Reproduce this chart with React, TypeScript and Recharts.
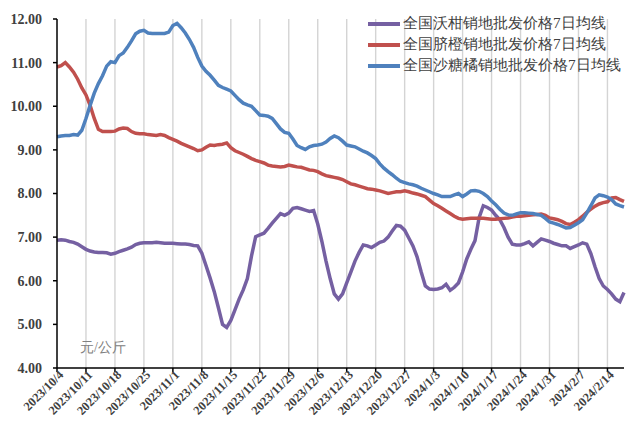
import React from 'react';
import { LineChart, Line, XAxis, YAxis, ReferenceLine } from 'recharts';

const START_DATE = Date.UTC(2023, 9, 4);
const DAY_COUNT = 138;
const categories: string[] = Array.from({ length: DAY_COUNT }, (_, i) => {
  const d = new Date(START_DATE + i * 86400000);
  return `${d.getUTCFullYear()}/${d.getUTCMonth() + 1}/${d.getUTCDate()}`;
});

const tickLabels = [
  '2023/10/4', '2023/10/11', '2023/10/18', '2023/10/25', '2023/11/1', '2023/11/8',
  '2023/11/15', '2023/11/22', '2023/11/29', '2023/12/6', '2023/12/13', '2023/12/20',
  '2023/12/27', '2024/1/3', '2024/1/10', '2024/1/17', '2024/1/24', '2024/1/31',
  '2024/2/7', '2024/2/14',
];

const yTicks = [4, 5, 6, 7, 8, 9, 10, 11, 12];

const seriesNames = ['全国沃柑销地批发价格7日均线', '全国脐橙销地批发价格7日均线', '全国沙糖橘销地批发价格7日均线'];
const seriesColors = ['#7560A2', '#C0504D', '#4F81BD'];

const woganValues = [
  6.93, 6.94, 6.93, 6.90, 6.88, 6.84, 6.78, 6.72, 6.68, 6.66,
  6.65, 6.65, 6.64, 6.61, 6.63, 6.67, 6.70, 6.73, 6.77, 6.83,
  6.86, 6.87, 6.87, 6.87, 6.88, 6.87, 6.86, 6.86, 6.86, 6.85,
  6.84, 6.84, 6.83, 6.81, 6.80, 6.63, 6.35, 6.06, 5.75, 5.38,
  5.00, 4.93, 5.09, 5.33, 5.58, 5.79, 6.05, 6.57, 7.01, 7.05,
  7.09, 7.20, 7.32, 7.43, 7.54, 7.50, 7.55, 7.66, 7.68, 7.65,
  7.62, 7.59, 7.61, 7.30, 6.90, 6.45, 6.05, 5.70, 5.58, 5.70,
  5.95, 6.20, 6.45, 6.65, 6.82, 6.80, 6.76, 6.82, 6.88, 6.91,
  7.00, 7.14, 7.27, 7.25, 7.16, 6.98, 6.80, 6.55, 6.20, 5.88,
  5.81, 5.80, 5.81, 5.84, 5.92, 5.78, 5.85, 5.95, 6.20, 6.50,
  6.72, 6.92, 7.45, 7.72, 7.68, 7.62, 7.50, 7.40, 7.22, 7.00,
  6.84, 6.82, 6.82, 6.85, 6.89, 6.80, 6.88, 6.96, 6.93, 6.90,
  6.86, 6.83, 6.80, 6.80, 6.74, 6.78, 6.82, 6.87, 6.84, 6.62,
  6.32, 6.05, 5.88, 5.80, 5.70, 5.58, 5.52, 5.73,
];

const qichengValues = [
  10.90, 10.93, 11.00, 10.90, 10.78, 10.62, 10.42, 10.26, 10.02, 9.72,
  9.47, 9.42, 9.42, 9.42, 9.43, 9.48, 9.50, 9.49, 9.42, 9.38,
  9.37, 9.37, 9.35, 9.34, 9.33, 9.35, 9.33, 9.28, 9.24, 9.20,
  9.15, 9.11, 9.07, 9.03, 8.98, 9.00, 9.06, 9.11, 9.10, 9.12,
  9.13, 9.16, 9.05, 8.98, 8.94, 8.90, 8.85, 8.80, 8.76, 8.73,
  8.70, 8.65, 8.63, 8.62, 8.61, 8.62, 8.65, 8.63, 8.61, 8.60,
  8.57, 8.54, 8.53, 8.50, 8.45, 8.41, 8.39, 8.37, 8.35, 8.32,
  8.27, 8.22, 8.20, 8.17, 8.14, 8.11, 8.10, 8.08, 8.06, 8.03,
  8.00, 8.02, 8.04, 8.04, 8.06, 8.04, 8.01, 7.99, 7.96, 7.93,
  7.85, 7.77, 7.72, 7.66, 7.60, 7.54, 7.48, 7.43, 7.41, 7.42,
  7.43, 7.43, 7.43, 7.43, 7.42, 7.41, 7.41, 7.42, 7.43, 7.44,
  7.46, 7.48, 7.48, 7.49, 7.50, 7.51, 7.52, 7.53, 7.50, 7.44,
  7.42, 7.40, 7.36, 7.31, 7.29, 7.34, 7.40, 7.48, 7.57, 7.64,
  7.71, 7.76, 7.79, 7.81, 7.90, 7.91, 7.86, 7.82,
];

const shatangjuValues = [
  9.30, 9.32, 9.33, 9.33, 9.35, 9.34, 9.45, 9.72, 10.02, 10.30,
  10.52, 10.70, 10.92, 11.02, 11.00, 11.16, 11.22, 11.35, 11.50, 11.66,
  11.72, 11.74, 11.68, 11.67, 11.67, 11.67, 11.67, 11.70, 11.85, 11.90,
  11.80, 11.68, 11.53, 11.35, 11.12, 10.92, 10.80, 10.71, 10.60, 10.48,
  10.43, 10.39, 10.35, 10.25, 10.15, 10.07, 10.03, 10.00, 9.90, 9.80,
  9.79, 9.77, 9.72, 9.60, 9.48, 9.40, 9.38, 9.25, 9.10, 9.05,
  9.01, 9.07, 9.10, 9.11, 9.13, 9.18, 9.26, 9.32, 9.28, 9.20,
  9.11, 9.09, 9.07, 9.02, 8.97, 8.93, 8.87, 8.80, 8.68, 8.58,
  8.50, 8.43, 8.35, 8.28, 8.25, 8.22, 8.20, 8.17, 8.12, 8.08,
  8.04, 8.00, 7.97, 7.93, 7.93, 7.93, 7.97, 8.00, 7.93, 7.99,
  8.06, 8.07, 8.05, 8.00, 7.93, 7.83, 7.74, 7.64, 7.55, 7.51,
  7.50, 7.53, 7.56, 7.56, 7.55, 7.54, 7.52, 7.50, 7.43, 7.35,
  7.32, 7.29, 7.25, 7.21, 7.22, 7.27, 7.33, 7.40, 7.55, 7.72,
  7.90, 7.97, 7.95, 7.92, 7.86, 7.76, 7.72, 7.69,
];

const chartData = categories.map((date, i) => ({
  date,
  wogan: woganValues[i],
  qicheng: qichengValues[i],
  shatangju: shatangjuValues[i],
}));

const TEXT_COLOR = '#404040';
const SERIF = '"Liberation Serif", "Times New Roman", serif';

const XTick = (props: any) => {
  const { x, y, payload } = props;
  return (
    <g transform={`translate(${x},${y})`}>
      <text
        x={4}
        y={0}
        dy="0.5em"
        textAnchor="end"
        transform="rotate(-45)"
        fill={TEXT_COLOR}
        fontFamily={SERIF}
        fontWeight="bold"
        fontSize={12.5}
      >
        {payload.value}
      </text>
    </g>
  );
};

export default function App() {
  return (
    <div style={{ position: 'absolute', left: 0, top: 0, width: 630, height: 427, background: '#fff' }}>
      <LineChart
        width={630}
        height={427}
        data={chartData}
        margin={{ top: 19, right: 6, bottom: 0, left: 0 }}
      >
        {tickLabels.slice(1).map((t) => (
          <ReferenceLine key={t} x={t} stroke="#D4D4D4" strokeWidth={1.4} />
        ))}
        <XAxis
          dataKey="date"
          ticks={tickLabels}
          interval={0}
          height={59}
          tickSize={4}
          tickMargin={2}
          stroke="#000"
          strokeWidth={1.5}
          tick={<XTick />}
        />
        <YAxis
          domain={[4, 12]}
          ticks={yTicks}
          width={57}
          tickSize={4}
          tickMargin={11}
          stroke="#000"
          strokeWidth={1.5}
          tickFormatter={(v: number) => v.toFixed(2)}
          tick={{ fill: TEXT_COLOR, fontFamily: SERIF, fontWeight: 'bold', fontSize: 14 }}
          allowDataOverflow={true}
        />
        <Line type="linear" dataKey="wogan" name={seriesNames[0]} stroke={seriesColors[0]} strokeWidth={3.5} dot={false} isAnimationActive={false} />
        <Line type="linear" dataKey="qicheng" name={seriesNames[1]} stroke={seriesColors[1]} strokeWidth={3.5} dot={false} isAnimationActive={false} />
        <Line type="linear" dataKey="shatangju" name={seriesNames[2]} stroke={seriesColors[2]} strokeWidth={3.5} dot={false} isAnimationActive={false} />
      </LineChart>
      <div
        style={{
          position: 'absolute',
          left: 368,
          top: 13,
          fontFamily: SERIF,
          fontSize: 15.3,
          color: TEXT_COLOR,
        }}
      >
        {seriesNames.map((name, i) => (
          <div key={name} style={{ display: 'flex', alignItems: 'center', height: 21 }}>
            <div style={{ width: 32, height: 4, background: seriesColors[i], marginRight: 3 }} />
            <span style={{ whiteSpace: 'nowrap' }}>{name}</span>
          </div>
        ))}
      </div>
      <div
        style={{
          position: 'absolute',
          left: 80,
          top: 339,
          fontFamily: SERIF,
          fontSize: 14,
          color: '#808080',
          whiteSpace: 'nowrap',
        }}
      >
        元/公斤
      </div>
    </div>
  );
}
